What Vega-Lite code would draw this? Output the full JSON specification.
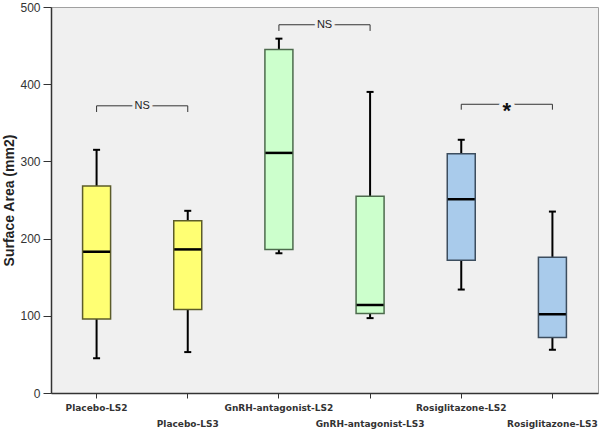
{
  "$schema": "https://vega.github.io/schema/vega-lite/v6.json",
  "width": 547,
  "height": 386,
  "autosize": "none",
  "padding": {"left": 51, "top": 7, "right": 2, "bottom": 44},
  "background": "white",
  "config": {
    "view": {"fill": "#f0f0f0", "stroke": "#a0a0a0", "strokeWidth": 1},
    "axis": {"grid": false}
  },
  "datasets": {
    "boxes": [
      {"group": "Placebo-LS2", "treatment": "Placebo", "min": 45, "q1": 96, "median": 183, "q3": 268, "max": 315},
      {"group": "Placebo-LS3", "treatment": "Placebo", "min": 53, "q1": 108, "median": 186, "q3": 223, "max": 236},
      {"group": "GnRH-antagonist-LS2", "treatment": "GnRH", "min": 181, "q1": 186, "median": 311, "q3": 445, "max": 459},
      {"group": "GnRH-antagonist-LS3", "treatment": "GnRH", "min": 97, "q1": 103, "median": 114, "q3": 255, "max": 390},
      {"group": "Rosiglitazone-LS2", "treatment": "Rosiglitazone", "min": 134, "q1": 172, "median": 251, "q3": 310, "max": 328},
      {"group": "Rosiglitazone-LS3", "treatment": "Rosiglitazone", "min": 56, "q1": 72, "median": 102, "q3": 176, "max": 235}
    ],
    "brackets": [
      {"from": "Placebo-LS2", "to": "Placebo-LS3", "top": 372, "end": 364, "label": "NS"},
      {"from": "GnRH-antagonist-LS2", "to": "GnRH-antagonist-LS3", "top": 477, "end": 469, "label": "NS"},
      {"from": "Rosiglitazone-LS2", "to": "Rosiglitazone-LS3", "top": 374, "end": 367, "label": "*"}
    ]
  },
  "layer": [
    {
      "data": {"name": "boxes"},
      "mark": {"type": "rule", "color": "#000000", "strokeWidth": 2},
      "encoding": {
        "x": {
          "field": "group", "type": "nominal", "title": null,
          "sort": ["Placebo-LS2", "Placebo-LS3", "GnRH-antagonist-LS2", "GnRH-antagonist-LS3", "Rosiglitazone-LS2", "Rosiglitazone-LS3"],
          "scale": {
            "domain": ["Placebo-LS2", "Placebo-LS3", "GnRH-antagonist-LS2", "GnRH-antagonist-LS3", "Rosiglitazone-LS2", "Rosiglitazone-LS3"],
            "paddingInner": 0, "paddingOuter": 0
          },
          "axis": {
            "labelAngle": 0,
            "labelExpr": "indexof(datum.label, 'LS3') >= 0 ? ['', datum.label] : datum.label",
            "labelFont": "DejaVu Sans",
            "labelFontSize": 9,
            "labelFontWeight": "bold",
            "labelColor": "#333333",
            "labelLineHeight": 16,
            "labelPadding": 5,
            "labelOverlap": false,
            "labelBound": false,
            "tickSize": 5,
            "tickColor": "#333333",
            "domainColor": "#333333",
            "domainWidth": 1.5
          }
        },
        "y": {
          "field": "min", "type": "quantitative", "title": "Surface Area (mm2)",
          "scale": {"domain": [0, 500], "nice": false},
          "axis": {
            "values": [0, 50, 100, 150, 200, 250, 300, 350, 400, 450, 500],
            "labelExpr": "datum.value % 100 === 0 ? datum.label : ''",
            "tickSize": {"condition": {"test": "datum.value % 100 === 0", "value": 8}, "value": 4},
            "tickColor": "#333333",
            "domainColor": "#333333",
            "domainWidth": 1.5,
            "labelFont": "Liberation Sans",
            "labelFontSize": 12,
            "labelColor": "#333333",
            "labelPadding": 3,
            "titleFont": "Liberation Sans",
            "titleFontSize": 14,
            "titleFontWeight": "bold",
            "titleColor": "#222222",
            "titlePadding": 3
          }
        },
        "y2": {"field": "max"}
      }
    },
    {
      "data": {"name": "boxes"},
      "mark": {"type": "bar", "size": 28, "strokeWidth": 1.5},
      "encoding": {
        "x": {"field": "group", "type": "nominal", "title": null},
        "y": {"field": "q1", "type": "quantitative", "title": "Surface Area (mm2)"},
        "y2": {"field": "q3"},
        "color": {
          "field": "treatment", "type": "nominal", "legend": null,
          "scale": {"domain": ["Placebo", "GnRH", "Rosiglitazone"], "range": ["#ffff73", "#ccffcc", "#a9cbeb"]}
        },
        "stroke": {
          "field": "treatment", "type": "nominal", "legend": null,
          "scale": {"domain": ["Placebo", "GnRH", "Rosiglitazone"], "range": ["#5c5c2a", "#4d6b4d", "#3c4d5e"]}
        }
      }
    },
    {
      "data": {"name": "boxes"},
      "mark": {"type": "tick", "size": 27, "thickness": 2.5, "color": "#000000", "opacity": 1},
      "encoding": {
        "x": {"field": "group", "type": "nominal", "title": null},
        "y": {"field": "median", "type": "quantitative", "title": "Surface Area (mm2)"}
      }
    },
    {
      "data": {"name": "boxes"},
      "mark": {"type": "tick", "size": 7, "thickness": 2, "color": "#000000", "opacity": 1},
      "encoding": {
        "x": {"field": "group", "type": "nominal", "title": null},
        "y": {"field": "max", "type": "quantitative", "title": "Surface Area (mm2)"}
      }
    },
    {
      "data": {"name": "boxes"},
      "mark": {"type": "tick", "size": 7, "thickness": 2, "color": "#000000", "opacity": 1},
      "encoding": {
        "x": {"field": "group", "type": "nominal", "title": null},
        "y": {"field": "min", "type": "quantitative", "title": "Surface Area (mm2)"}
      }
    },
    {
      "data": {"name": "brackets"},
      "mark": {"type": "rule", "color": "#333333", "strokeWidth": 1},
      "encoding": {
        "x": {"field": "from", "type": "nominal", "title": null},
        "x2": {"field": "to"},
        "y": {"field": "top", "type": "quantitative", "title": "Surface Area (mm2)"}
      }
    },
    {
      "data": {"name": "brackets"},
      "mark": {"type": "rule", "color": "#333333", "strokeWidth": 1},
      "encoding": {
        "x": {"field": "from", "type": "nominal", "title": null},
        "y": {"field": "top", "type": "quantitative", "title": "Surface Area (mm2)"},
        "y2": {"field": "end"}
      }
    },
    {
      "data": {"name": "brackets"},
      "mark": {"type": "rule", "color": "#333333", "strokeWidth": 1},
      "encoding": {
        "x": {"field": "to", "type": "nominal", "title": null},
        "y": {"field": "top", "type": "quantitative", "title": "Surface Area (mm2)"},
        "y2": {"field": "end"}
      }
    },
    {
      "data": {"name": "brackets"},
      "transform": [{"filter": "datum.label === 'NS'"}],
      "mark": {"type": "text", "dx": 45.6, "font": "Liberation Sans", "fontSize": 11, "baseline": "middle", "fill": "#f0f0f0", "stroke": "#f0f0f0", "strokeWidth": 6},
      "encoding": {
        "x": {"field": "from", "type": "nominal", "title": null},
        "y": {"field": "top", "type": "quantitative", "title": "Surface Area (mm2)"},
        "text": {"field": "label"}
      }
    },
    {
      "data": {"name": "brackets"},
      "transform": [{"filter": "datum.label === 'NS'"}],
      "mark": {"type": "text", "dx": 45.6, "font": "Liberation Sans", "fontSize": 11, "baseline": "middle", "color": "#222222"},
      "encoding": {
        "x": {"field": "from", "type": "nominal", "title": null},
        "y": {"field": "top", "type": "quantitative", "title": "Surface Area (mm2)"},
        "text": {"field": "label"}
      }
    },
    {
      "data": {"name": "brackets"},
      "transform": [{"filter": "datum.label === '*'"}],
      "mark": {"type": "text", "dx": 45.6, "dy": 7, "font": "Liberation Sans", "fontSize": 22, "fontWeight": "bold", "baseline": "middle", "fill": "#f0f0f0", "stroke": "#f0f0f0", "strokeWidth": 8},
      "encoding": {
        "x": {"field": "from", "type": "nominal", "title": null},
        "y": {"field": "top", "type": "quantitative", "title": "Surface Area (mm2)"},
        "text": {"field": "label"}
      }
    },
    {
      "data": {"name": "brackets"},
      "transform": [{"filter": "datum.label === '*'"}],
      "mark": {"type": "text", "dx": 45.6, "dy": 7, "font": "Liberation Sans", "fontSize": 22, "fontWeight": "bold", "baseline": "middle", "color": "#111111"},
      "encoding": {
        "x": {"field": "from", "type": "nominal", "title": null},
        "y": {"field": "top", "type": "quantitative", "title": "Surface Area (mm2)"},
        "text": {"field": "label"}
      }
    }
  ]
}
